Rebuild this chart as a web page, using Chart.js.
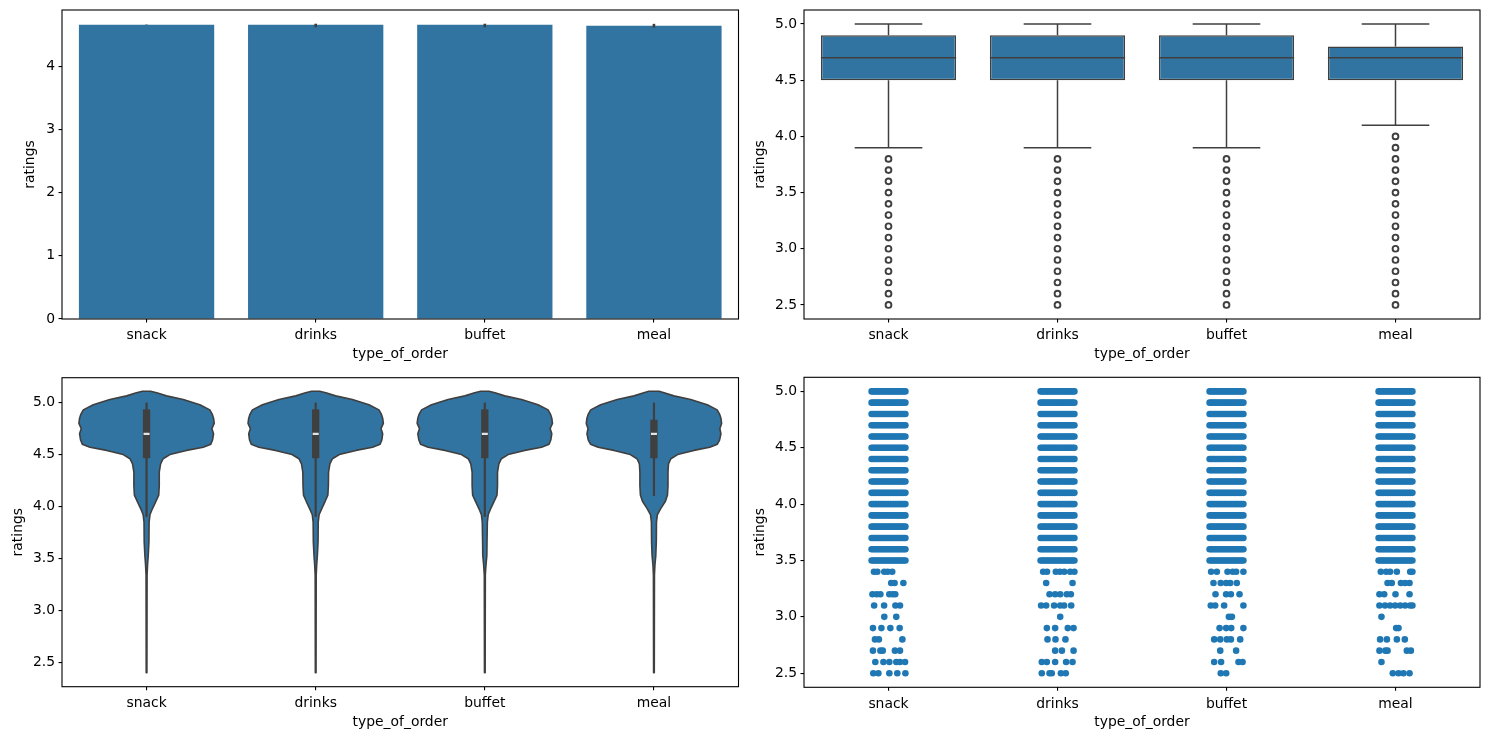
<!DOCTYPE html>
<html><head><meta charset="utf-8">
<script src="https://cdn.jsdelivr.net/npm/chart.js@4.4.0/dist/chart.umd.min.js"></script>
<style>
html,body{margin:0;padding:0;background:#fff;width:1489px;height:740px;overflow:hidden}
canvas{position:absolute}
</style></head><body>
<canvas id="c1" width="745" height="370" style="left:0px;top:0px"></canvas>
<canvas id="c2" width="744" height="370" style="left:745px;top:0px"></canvas>
<canvas id="c3" width="745" height="370" style="left:0px;top:370px"></canvas>
<canvas id="c4" width="744" height="370" style="left:745px;top:370px"></canvas>
<script>
// ---------- data ----------
const categories = ['snack', 'drinks', 'buffet', 'meal'];
const xTitle = 'type_of_order';
const yTitle = 'ratings';
const barTicks = [0, 1, 2, 3, 4];
const ratingTicks = [2.5, 3.0, 3.5, 4.0, 4.5, 5.0];

// bar plot: mean ratings and confidence interval
const meanRatings = [4.654, 4.654, 4.654, 4.638];
const ciLow = [4.651, 4.614, 4.614, 4.609];
const ciHigh = [4.657, 4.670, 4.670, 4.668];

// box plot statistics
const boxQ1 = [4.5, 4.5, 4.5, 4.5];
const boxMedian = [4.7, 4.7, 4.7, 4.7];
const boxQ3 = [4.9, 4.9, 4.9, 4.8];
const whiskerLow = [3.9, 3.9, 3.9, 4.1];
const whiskerHigh = [5.0, 5.0, 5.0, 5.0];
const outliersSnack = [2.5, 2.6, 2.7, 2.8, 2.9, 3.0, 3.1, 3.2, 3.3, 3.4, 3.5, 3.6, 3.7, 3.8];
const outliersDrinks = [2.5, 2.6, 2.7, 2.8, 2.9, 3.0, 3.1, 3.2, 3.3, 3.4, 3.5, 3.6, 3.7, 3.8];
const outliersBuffet = [2.5, 2.6, 2.7, 2.8, 2.9, 3.0, 3.1, 3.2, 3.3, 3.4, 3.5, 3.6, 3.7, 3.8];
const outliersMeal = [2.5, 2.6, 2.7, 2.8, 2.9, 3.0, 3.1, 3.2, 3.3, 3.4, 3.5, 3.6, 3.7, 3.8, 3.9, 4.0];

// violin plot: density half-widths (category units) at rating levels
const violinLevels = [2.40, 3.34, 3.44, 3.53, 3.66, 3.85, 3.92, 3.98, 4.05, 4.11, 4.20, 4.33, 4.41, 4.46, 4.50, 4.54, 4.57, 4.60, 4.64, 4.70, 4.75, 4.80, 4.85, 4.89, 4.93, 4.98, 5.03, 5.065, 5.095, 5.11];
const violinSnack  = [0.002, 0.003, 0.006, 0.010, 0.014, 0.015, 0.020, 0.035, 0.055, 0.072, 0.075, 0.075, 0.083, 0.098, 0.138, 0.236, 0.335, 0.380, 0.390, 0.396, 0.386, 0.400, 0.396, 0.388, 0.374, 0.315, 0.217, 0.118, 0.060, 0.024];
const violinDrinks = [0.002, 0.003, 0.006, 0.010, 0.014, 0.015, 0.020, 0.036, 0.056, 0.072, 0.075, 0.076, 0.084, 0.099, 0.140, 0.238, 0.336, 0.381, 0.391, 0.396, 0.386, 0.400, 0.396, 0.388, 0.374, 0.315, 0.217, 0.118, 0.060, 0.024];
const violinBuffet = [0.002, 0.003, 0.007, 0.012, 0.013, 0.015, 0.020, 0.035, 0.055, 0.072, 0.075, 0.075, 0.083, 0.098, 0.138, 0.236, 0.335, 0.380, 0.390, 0.396, 0.386, 0.400, 0.396, 0.388, 0.374, 0.315, 0.217, 0.118, 0.060, 0.024];
const violinMeal   = [0.002, 0.003, 0.006, 0.011, 0.014, 0.015, 0.020, 0.040, 0.068, 0.080, 0.083, 0.083, 0.086, 0.100, 0.140, 0.236, 0.330, 0.375, 0.388, 0.396, 0.390, 0.400, 0.396, 0.388, 0.374, 0.315, 0.217, 0.118, 0.060, 0.030];

// strip plot: dense rows (all categories) and sparse rows with jitter offsets
const stripDenseRows = [3.5, 3.6, 3.7, 3.8, 3.9, 4.0, 4.1, 4.2, 4.3, 4.4, 4.5, 4.6, 4.7, 4.8, 4.9, 5.0];
const stripDenseOffsets = [-0.1, -0.09, -0.08, -0.07, -0.06, -0.05, -0.04, -0.03, -0.02, -0.01, 0, 0.01, 0.02, 0.03, 0.04, 0.05, 0.06, 0.07, 0.08, 0.09, 0.1];
const stripSnack = [
  [3.4, [-0.086, -0.066, -0.025, -0.005, 0.022]],
  [3.3, [0.016, 0.036, 0.088]],
  [3.2, [-0.095, -0.07, -0.048, 0.005, 0.025, 0.04]],
  [3.1, [-0.085, -0.026, 0.041, 0.068]],
  [3.0, [-0.025, 0.046]],
  [2.9, [-0.092, -0.042, 0.011, 0.066]],
  [2.8, [-0.08, -0.057, 0.082]],
  [2.7, [-0.092, -0.048, -0.034, 0.038, 0.068]],
  [2.6, [-0.078, -0.03, 0.005, 0.046, 0.068, 0.098]],
  [2.5, [-0.09, -0.06, 0.005, 0.052, 0.1]]
];
const stripDrinks = [
  [3.4, [-0.085, -0.062, -0.01, 0.014, 0.04, 0.075, 0.1]],
  [3.3, [-0.067, 0.089]],
  [3.2, [-0.047, -0.014, 0.016, 0.055, 0.079]],
  [3.1, [-0.097, -0.067, -0.02, 0.016, 0.039, 0.081]],
  [3.0, [0.016]],
  [2.9, [-0.063, -0.014, 0.061, 0.095]],
  [2.8, [-0.059, -0.012, 0.047]],
  [2.7, [-0.014, 0.026, 0.095]],
  [2.6, [-0.093, -0.063, -0.014, 0.051, 0.089]],
  [2.5, [-0.093, -0.047, -0.034, 0.02, 0.049]]
];
const stripBuffet = [
  [3.4, [-0.091, -0.057, 0.006, 0.037, 0.057, 0.1]],
  [3.3, [-0.077, -0.034, -0.002, 0.022, 0.061]],
  [3.2, [-0.065, -0.002, 0.026, 0.077]],
  [3.1, [-0.093, -0.067, -0.014, 0.1]],
  [3.0, [0.014, 0.032]],
  [2.9, [-0.041, -0.002, 0.028, 0.1]],
  [2.8, [-0.073, -0.037, 0.002, 0.026, 0.081]],
  [2.7, [-0.037, 0.057]],
  [2.6, [-0.073, -0.032, 0.071, 0.095]],
  [2.5, [-0.034, -0.002]]
];
const stripMeal = [
  [3.4, [-0.087, -0.055, -0.032, 0.008, 0.087, 0.1]],
  [3.3, [-0.047, -0.022, 0.032, 0.057, 0.083]],
  [3.2, [-0.095, -0.067, 0, 0.083]],
  [3.1, [-0.095, -0.062, -0.032, -0.002, 0.028, 0.057, 0.087, 0.1]],
  [3.0, [-0.083]],
  [2.9, [0.004, 0.018]],
  [2.8, [-0.091, -0.051, 0.008, 0.055]],
  [2.7, [-0.095, -0.06, -0.047, 0.067, 0.091]],
  [2.6, [-0.083]],
  [2.5, [-0.016, 0.018, 0.047, 0.083]]
];

// ---------- styling helpers ----------
const FONT = {family: "'DejaVu Sans', sans-serif", size: 13.9};
const INK = '#3f3f3f';
const FILL = '#3274a1';
const DOT = '#1f77b4';

function zeroPad(s) { s.paddingTop = 0; s.paddingBottom = 0; s.paddingLeft = 0; s.paddingRight = 0; }
function xAxis(kind, xh, padBottom) {
  const ax = {
    type: kind,
    offset: kind !== 'linear',
    afterFit: s => { s.height = xh; zeroPad(s); },
    ticks: {font: FONT, color: '#000', padding: 5, maxRotation: 0, autoSkip: false},
    grid: {drawOnChartArea: false, drawTicks: true, tickLength: 3.5, color: '#000', lineWidth: 1.1, offset: false},
    border: {display: false},
    title: {display: true, text: xTitle, font: FONT, color: '#000', padding: {top: 0, bottom: padBottom}}
  };
  if (kind === 'linear') {
    ax.min = -0.5; ax.max = 3.5;
    ax.afterBuildTicks = s => { s.ticks = categories.map((c, i) => ({value: i})); };
    ax.ticks.callback = v => categories[v];
  }
  return ax;
}
function yAxis(min, max, ticks, yw, padTop, digits) {
  return {
    type: 'linear', min, max,
    afterBuildTicks: s => { s.ticks = ticks.map(v => ({value: v})); },
    afterFit: s => { s.width = yw; zeroPad(s); },
    ticks: {font: FONT, color: '#000', padding: 3.5, callback: v => Number(v).toFixed(digits)},
    grid: {drawOnChartArea: false, drawTicks: true, tickLength: 3.5, color: '#000', lineWidth: 1.1},
    border: {display: false},
    title: {display: true, text: yTitle, font: FONT, color: '#000', padding: {top: padTop, bottom: 0}}
  };
}
const framePlugin = {
  id: 'frame',
  afterDraw(chart) {
    const {ctx, chartArea: a} = chart;
    ctx.save();
    ctx.strokeStyle = '#000';
    ctx.lineWidth = 1.1;
    ctx.strokeRect(a.left, a.top, a.right - a.left, a.bottom - a.top);
    ctx.restore();
  }
};
const baseOpts = (padding, scales) => ({
  responsive: false, animation: false, devicePixelRatio: 1,
  layout: {padding},
  plugins: {legend: {display: false}, tooltip: {enabled: false}},
  scales
});

// ---------- 1: bar plot ----------
const errorBarPlugin = {
  id: 'errbars',
  afterDatasetsDraw(chart) {
    const {ctx, scales: {x, y}} = chart;
    ctx.save();
    ctx.strokeStyle = INK;
    ctx.lineWidth = 2.6;
    categories.forEach((c, i) => {
      const px = x.getPixelForValue(i);
      ctx.beginPath();
      ctx.moveTo(px, y.getPixelForValue(ciLow[i]));
      ctx.lineTo(px, y.getPixelForValue(ciHigh[i]));
      ctx.stroke();
    });
    ctx.restore();
  }
};
new Chart(document.getElementById('c1'), {
  type: 'bar',
  data: {labels: categories, datasets: [{data: meanRatings, backgroundColor: FILL, borderWidth: 0, categoryPercentage: 0.8, barPercentage: 1}]},
  options: baseOpts({left: 0, top: 10, right: 6.5, bottom: 0}, {
    x: xAxis('category', 51, 7.7),
    y: yAxis(0, 4.887, barTicks, 62, 21.7, 0)
  }),
  plugins: [errorBarPlugin, framePlugin]
});

// ---------- 2: box plot ----------
const outlierSets = [outliersSnack, outliersDrinks, outliersBuffet, outliersMeal];
const boxPlugin = {
  id: 'boxparts',
  afterDatasetsDraw(chart) {
    const {ctx, scales: {x, y}} = chart;
    ctx.save();
    ctx.strokeStyle = INK;
    ctx.lineWidth = 1.5;
    categories.forEach((c, i) => {
      const px = x.getPixelForValue(i);
      const half = x.getPixelForValue(i + 0.4) - px;
      const cap = x.getPixelForValue(i + 0.2) - px;
      const seg = (x1, y1, x2, y2) => { ctx.beginPath(); ctx.moveTo(x1, y1); ctx.lineTo(x2, y2); ctx.stroke(); };
      seg(px, y.getPixelForValue(boxQ3[i]), px, y.getPixelForValue(whiskerHigh[i]));
      seg(px, y.getPixelForValue(boxQ1[i]), px, y.getPixelForValue(whiskerLow[i]));
      seg(px - cap, y.getPixelForValue(whiskerHigh[i]), px + cap, y.getPixelForValue(whiskerHigh[i]));
      seg(px - cap, y.getPixelForValue(whiskerLow[i]), px + cap, y.getPixelForValue(whiskerLow[i]));
      seg(px - half, y.getPixelForValue(boxMedian[i]), px + half, y.getPixelForValue(boxMedian[i]));
    });
    ctx.restore();
  }
};
const outlierPoints = [];
outlierSets.forEach((set, i) => set.forEach(v => outlierPoints.push({x: i, y: v})));
new Chart(document.getElementById('c2'), {
  type: 'bar',
  data: {datasets: [
    {type: 'bar', data: categories.map((c, i) => ({x: i, y: [boxQ1[i], boxQ3[i]]})),
     backgroundColor: FILL, borderColor: INK, borderWidth: 1.5, borderSkipped: false,
     categoryPercentage: 0.8, barPercentage: 1},
    {type: 'scatter', data: outlierPoints, pointStyle: 'circle', pointRadius: 2.9,
     pointBorderWidth: 1.9, borderColor: INK, backgroundColor: 'rgba(0,0,0,0)', showLine: false}
  ]},
  options: baseOpts({left: 0, top: 10, right: 9, bottom: 0}, {
    x: xAxis('linear', 51, 7.7),
    y: yAxis(2.375, 5.125, ratingTicks, 59, 6.7, 1)
  }),
  plugins: [boxPlugin, framePlugin]
});

// ---------- 3: violin plot ----------
const violinSets = [violinSnack, violinDrinks, violinBuffet, violinMeal];
const violinPlugin = {
  id: 'violins',
  beforeDatasetsDraw(chart) {
    const {ctx, scales: {x, y}} = chart;
    ctx.save();
    violinSets.forEach((hw, i) => {
      ctx.beginPath();
      violinLevels.forEach((v, k) => {
        const px = x.getPixelForValue(i + hw[k]), py = y.getPixelForValue(v);
        if (k === 0) ctx.moveTo(px, py); else ctx.lineTo(px, py);
      });
      for (let k = violinLevels.length - 1; k >= 0; k--) {
        ctx.lineTo(x.getPixelForValue(i - hw[k]), y.getPixelForValue(violinLevels[k]));
      }
      ctx.closePath();
      ctx.fillStyle = FILL;
      ctx.fill();
      ctx.strokeStyle = INK;
      ctx.lineWidth = 1.6;
      ctx.lineJoin = 'round';
      ctx.stroke();
      const px = x.getPixelForValue(i);
      ctx.lineCap = 'butt';
      ctx.lineWidth = 2.2;
      ctx.beginPath();
      ctx.moveTo(px, y.getPixelForValue(whiskerLow[i]));
      ctx.lineTo(px, y.getPixelForValue(whiskerHigh[i]));
      ctx.stroke();
      ctx.lineCap = 'square';
      ctx.lineWidth = 7.3;
      ctx.beginPath();
      ctx.moveTo(px, y.getPixelForValue(boxQ1[i]));
      ctx.lineTo(px, y.getPixelForValue(boxQ3[i]));
      ctx.stroke();
      ctx.lineCap = 'butt';
    });
    ctx.restore();
  }
};
new Chart(document.getElementById('c3'), {
  type: 'scatter',
  data: {datasets: [
    {data: categories.map((c, i) => ({x: i, y: boxMedian[i]})), pointStyle: 'line',
     pointRadius: 3, pointBorderWidth: 2.2, borderColor: '#e4e4e4', backgroundColor: '#e4e4e4'}
  ]},
  options: baseOpts({left: 0, top: 7.7, right: 6.5, bottom: 0}, {
    x: xAxis('linear', 53.3, 9.7),
    y: yAxis(2.265, 5.24, ratingTicks, 62, 9.7, 1)
  }),
  plugins: [violinPlugin, framePlugin]
});

// ---------- 4: strip plot ----------
const stripSets = [stripSnack, stripDrinks, stripBuffet, stripMeal];
const stripPoints = [];
stripSets.forEach((rows, i) => {
  stripDenseRows.forEach(v => stripDenseOffsets.forEach(dx => stripPoints.push({x: i + dx, y: v})));
  rows.forEach(([v, offs]) => offs.forEach(dx => stripPoints.push({x: i + dx, y: v})));
});
new Chart(document.getElementById('c4'), {
  type: 'scatter',
  data: {datasets: [
    {data: stripPoints, pointStyle: 'circle', pointRadius: 3.3, pointBorderWidth: 0,
     backgroundColor: DOT, borderColor: DOT}
  ]},
  options: baseOpts({left: 0, top: 7.3, right: 9, bottom: 0}, {
    x: xAxis('linear', 52.7, 9.7),
    y: yAxis(2.375, 5.125, ratingTicks, 59, 6.7, 1)
  }),
  plugins: [framePlugin]
});
</script>
</body></html>
